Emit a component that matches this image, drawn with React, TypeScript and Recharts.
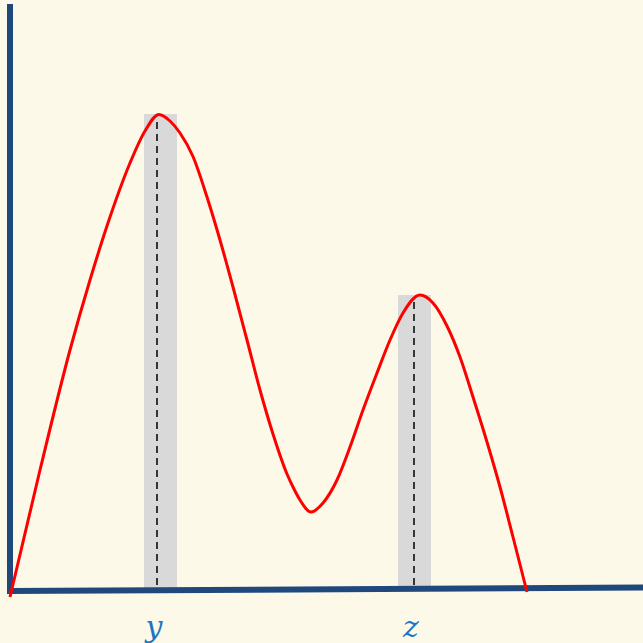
import {
  ComposedChart,
  Line,
  XAxis,
  YAxis,
  ReferenceArea,
  ReferenceLine,
  ReferenceDot,
} from 'recharts'

// red density curve (x, y in chart units)
const curveX = [
  0, 0.6, 1.2, 1.6, 2.0, 2.4, 2.7, 2.98, 3.2, 3.4, 3.66, 3.94, 4.2, 4.46, 4.74,
  5.0, 5.26, 5.54, 5.68, 5.8, 6.02, 6.26, 6.54, 6.8, 7.06, 7.34, 7.6, 7.86, 8.2,
  8.46, 8.74, 9.0, 9.26, 9.54, 9.8, 10.06, 10.34,
]
const curveY = [
  -0.16, 2.38, 4.78, 6.18, 7.44, 8.52, 9.16, 9.49, 9.36, 9.12, 8.65, 7.84, 6.98,
  6.04, 4.98, 3.98, 3.1, 2.3, 2.0, 1.78, 1.54, 1.72, 2.18, 2.84, 3.58, 4.32,
  4.98, 5.52, 5.88, 5.72, 5.26, 4.64, 3.84, 2.94, 2.04, 1.04, -0.06,
]

// the two marked modes
const modeNames = ['y', 'z']
const modeX = [2.94, 8.08]
const modeTop = [9.5, 5.88]
const bandLeft = [2.68, 7.76]
const bandRight = [3.34, 8.42]

const curve = curveX.map((x, i) => ({ x, y: curveY[i] }))

const AXIS = '#1F497D'
const LABEL = '#1B74C5'

export default function App() {
  return (
    <div style={{ position: 'absolute', left: 0, top: 0, width: 643, height: 643, background: '#FDF9E9' }}>
      <ComposedChart width={643} height={643} data={curve} margin={{ top: 0, right: 0, bottom: 0, left: 0 }}>
        <XAxis type="number" dataKey="x" domain={[-0.2, 12.66]} hide />
        <YAxis type="number" domain={[-1.08, 11.78]} hide />
        {modeNames.map((n, i) => (
          <ReferenceArea
            key={'band' + n}
            x1={bandLeft[i]}
            x2={bandRight[i]}
            y1={0.02}
            y2={modeTop[i]}
            fill="#D9D9D9"
            fillOpacity={1}
            stroke="none"
          />
        ))}
        {modeNames.map((n, i) => (
          <ReferenceLine
            key={'dash' + n}
            segment={[
              { x: modeX[i], y: 0.08 },
              { x: modeX[i], y: modeTop[i] - 0.08 },
            ]}
            stroke="#000"
            strokeWidth={1.5}
            strokeDasharray="7 5"
          />
        ))}
        <ReferenceLine
          segment={[
            { x: 0, y: -0.06 },
            { x: 0, y: 11.7 },
          ]}
          stroke={AXIS}
          strokeWidth={6}
        />
        <ReferenceLine
          segment={[
            { x: -0.06, y: -0.04 },
            { x: 12.66, y: 0.03 },
          ]}
          stroke={AXIS}
          strokeWidth={6}
        />
        {modeNames.map((n, i) => (
          <ReferenceDot
            key={'lab' + n}
            x={modeX[i] - 0.06}
            y={-0.74}
            r={0}
            fill="none"
            stroke="none"
            label={{
              value: n,
              position: 'center',
              fill: LABEL,
              fontSize: 30,
              fontStyle: 'italic',
              fontFamily: 'DejaVu Serif',
            }}
          />
        ))}
        <Line
          type="monotone"
          dataKey="y"
          stroke="#FF0000"
          strokeWidth={3}
          dot={false}
          activeDot={false}
          isAnimationActive={false}
        />
      </ComposedChart>
    </div>
  )
}
